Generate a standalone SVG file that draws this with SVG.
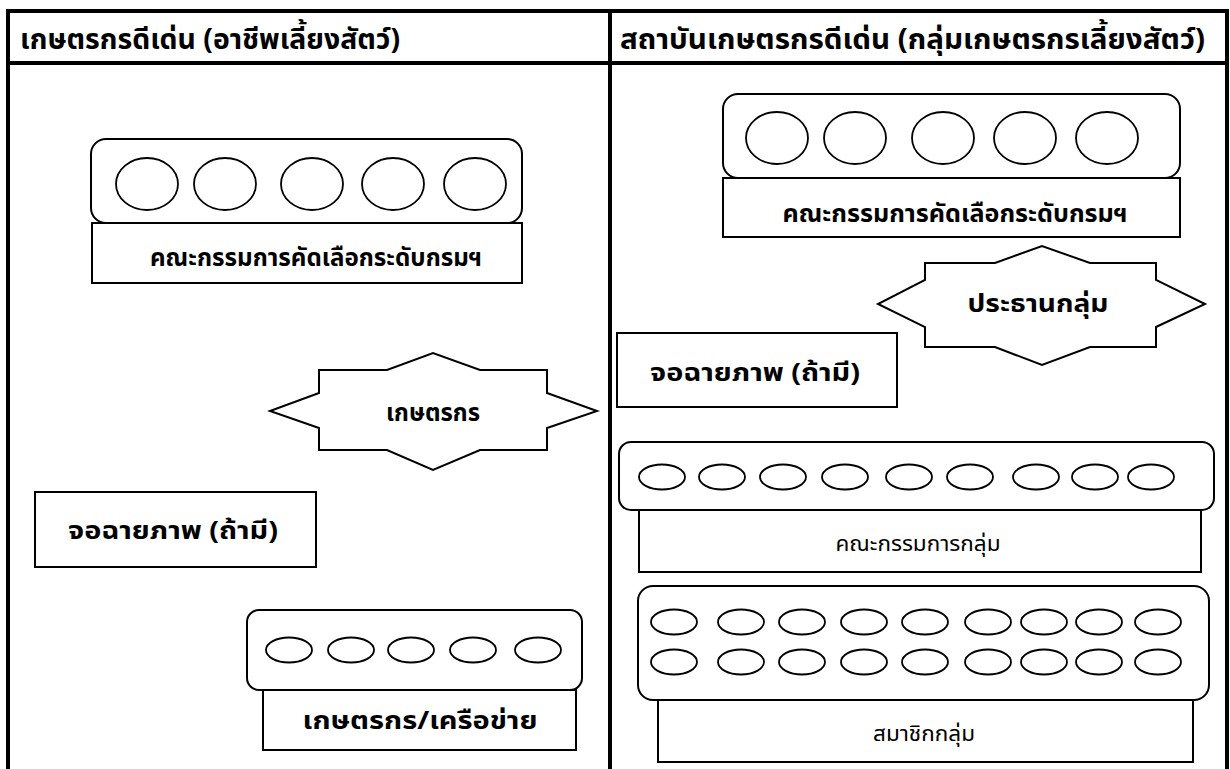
<svg xmlns="http://www.w3.org/2000/svg" width="1230" height="769" viewBox="0 0 1230 769">
<style>
text{font-family:"Noto Sans Thai","Noto Sans","DejaVu Sans",sans-serif;fill:#000}
.hd{font-size:29px;font-weight:bold}
.lb{font-size:25px;font-weight:bold;text-anchor:middle}
.sm{font-size:22px;text-anchor:middle}
.frame{stroke:#000;stroke-width:4;fill:none}
.sh{fill:#fff;stroke:#000;stroke-width:2}
.el{fill:#fff;stroke:#000;stroke-width:1.8}
</style>
<rect width="1230" height="769" fill="#fff"/>
<g id="table">
<line class="frame" x1="6" y1="11" x2="1229" y2="11"/>
<line class="frame" x1="8" y1="63" x2="1227" y2="63"/>
<line class="frame" x1="8" y1="9" x2="8" y2="769"/>
<line class="frame" x1="610" y1="9" x2="610" y2="769"/>
<line class="frame" x1="1227" y1="9" x2="1227" y2="769"/>
<text class="hd" x="20" y="49" textLength="380" lengthAdjust="spacingAndGlyphs">เกษตรกรดีเด่น (อาชีพเลี้ยงสัตว์)</text>
<text class="hd" x="620" y="49" textLength="585" lengthAdjust="spacingAndGlyphs">สถาบันเกษตรกรดีเด่น (กลุ่มเกษตรกรเลี้ยงสัตว์)</text>
</g>
<g id="left-committee">
<rect class="sh" x="91" y="139" width="431" height="84" rx="15"/>
<ellipse class="el" cx="147" cy="184" rx="31" ry="26"/>
<ellipse class="el" cx="225" cy="184" rx="31" ry="26"/>
<ellipse class="el" cx="312" cy="184" rx="31" ry="26"/>
<ellipse class="el" cx="393" cy="184" rx="31" ry="26"/>
<ellipse class="el" cx="475" cy="184" rx="31" ry="26"/>
<rect class="sh" x="92" y="223" width="430" height="60"/>
<text class="lb" x="316" y="266" textLength="332" lengthAdjust="spacingAndGlyphs">คณะกรรมการคัดเลือกระดับกรมฯ</text>
</g>
<g id="left-farmer">
<polygon class="sh" points="319,370 387,370 433,353 480,370 547,370 547,393 597,411 547,428 547,450 480,450 433,470 387,450 319,450 319,428 270,411 319,393"/>
<text class="lb" x="433" y="421" textLength="94" lengthAdjust="spacingAndGlyphs">เกษตรกร</text>
</g>
<g id="left-screen">
<rect class="sh" x="35" y="492" width="281" height="75"/>
<text class="lb" x="173" y="539" textLength="210" lengthAdjust="spacingAndGlyphs">จอฉายภาพ (ถ้ามี)</text>
</g>
<g id="left-network">
<rect class="sh" x="247" y="610" width="335" height="80" rx="12"/>
<ellipse class="el" cx="289" cy="650" rx="23" ry="12.5"/>
<ellipse class="el" cx="351" cy="650" rx="23" ry="12.5"/>
<ellipse class="el" cx="411" cy="650" rx="23" ry="12.5"/>
<ellipse class="el" cx="473" cy="650" rx="23" ry="12.5"/>
<ellipse class="el" cx="538" cy="650" rx="23" ry="12.5"/>
<rect class="sh" x="263" y="690" width="313" height="60"/>
<text class="lb" x="420" y="729" textLength="235" lengthAdjust="spacingAndGlyphs">เกษตรกร/เครือข่าย</text>
</g>
<g id="right-committee">
<rect class="sh" x="723" y="94" width="457" height="84" rx="15"/>
<ellipse class="el" cx="777" cy="138" rx="31" ry="26"/>
<ellipse class="el" cx="855" cy="138" rx="31" ry="26"/>
<ellipse class="el" cx="943" cy="138" rx="31" ry="26"/>
<ellipse class="el" cx="1025" cy="138" rx="31" ry="26"/>
<ellipse class="el" cx="1107" cy="138" rx="31" ry="26"/>
<rect class="sh" x="723" y="178" width="457" height="59"/>
<text class="lb" x="955" y="222" textLength="345" lengthAdjust="spacingAndGlyphs">คณะกรรมการคัดเลือกระดับกรมฯ</text>
</g>
<g id="right-president">
<polygon class="sh" points="925,263 995,263 1042,246 1090,263 1156,263 1156,280 1205,304 1156,327 1156,347 1090,347 1042,365 995,347 925,347 925,327 878,304 925,280"/>
<text class="lb" x="1038" y="312" textLength="141" lengthAdjust="spacingAndGlyphs">ประธานกลุ่ม</text>
</g>
<g id="right-screen">
<rect class="sh" x="617" y="333" width="280" height="74"/>
<text class="lb" x="755" y="381" textLength="210" lengthAdjust="spacingAndGlyphs">จอฉายภาพ (ถ้ามี)</text>
</g>
<g id="right-group-committee">
<rect class="sh" x="619" y="442" width="595" height="68" rx="12"/>
<ellipse class="el" cx="662" cy="477" rx="23" ry="12.5"/>
<ellipse class="el" cx="722" cy="477" rx="23" ry="12.5"/>
<ellipse class="el" cx="783" cy="477" rx="23" ry="12.5"/>
<ellipse class="el" cx="845" cy="477" rx="23" ry="12.5"/>
<ellipse class="el" cx="909" cy="477" rx="23" ry="12.5"/>
<ellipse class="el" cx="970" cy="477" rx="23" ry="12.5"/>
<ellipse class="el" cx="1036" cy="477" rx="23" ry="12.5"/>
<ellipse class="el" cx="1095" cy="477" rx="23" ry="12.5"/>
<ellipse class="el" cx="1151" cy="477" rx="23" ry="12.5"/>
<rect class="sh" x="639" y="510" width="562" height="62"/>
<text class="sm" x="918" y="551" textLength="165" lengthAdjust="spacingAndGlyphs">คณะกรรมการกลุ่ม</text>
</g>
<g id="right-members">
<rect class="sh" x="638" y="586" width="571" height="114" rx="15"/>
<ellipse class="el" cx="674" cy="622" rx="23" ry="12.5"/>
<ellipse class="el" cx="741" cy="622" rx="23" ry="12.5"/>
<ellipse class="el" cx="802" cy="622" rx="23" ry="12.5"/>
<ellipse class="el" cx="864" cy="622" rx="23" ry="12.5"/>
<ellipse class="el" cx="925" cy="622" rx="23" ry="12.5"/>
<ellipse class="el" cx="988" cy="622" rx="23" ry="12.5"/>
<ellipse class="el" cx="1044" cy="622" rx="23" ry="12.5"/>
<ellipse class="el" cx="1099" cy="622" rx="23" ry="12.5"/>
<ellipse class="el" cx="1158" cy="622" rx="23" ry="12.5"/>
<ellipse class="el" cx="674" cy="662" rx="23" ry="12.5"/>
<ellipse class="el" cx="741" cy="662" rx="23" ry="12.5"/>
<ellipse class="el" cx="802" cy="662" rx="23" ry="12.5"/>
<ellipse class="el" cx="864" cy="662" rx="23" ry="12.5"/>
<ellipse class="el" cx="925" cy="662" rx="23" ry="12.5"/>
<ellipse class="el" cx="988" cy="662" rx="23" ry="12.5"/>
<ellipse class="el" cx="1044" cy="662" rx="23" ry="12.5"/>
<ellipse class="el" cx="1099" cy="662" rx="23" ry="12.5"/>
<ellipse class="el" cx="1158" cy="662" rx="23" ry="12.5"/>
<rect class="sh" x="658" y="700" width="535" height="62"/>
<text class="sm" x="924" y="741" textLength="102" lengthAdjust="spacingAndGlyphs">สมาชิกกลุ่ม</text>
</g>
</svg>
